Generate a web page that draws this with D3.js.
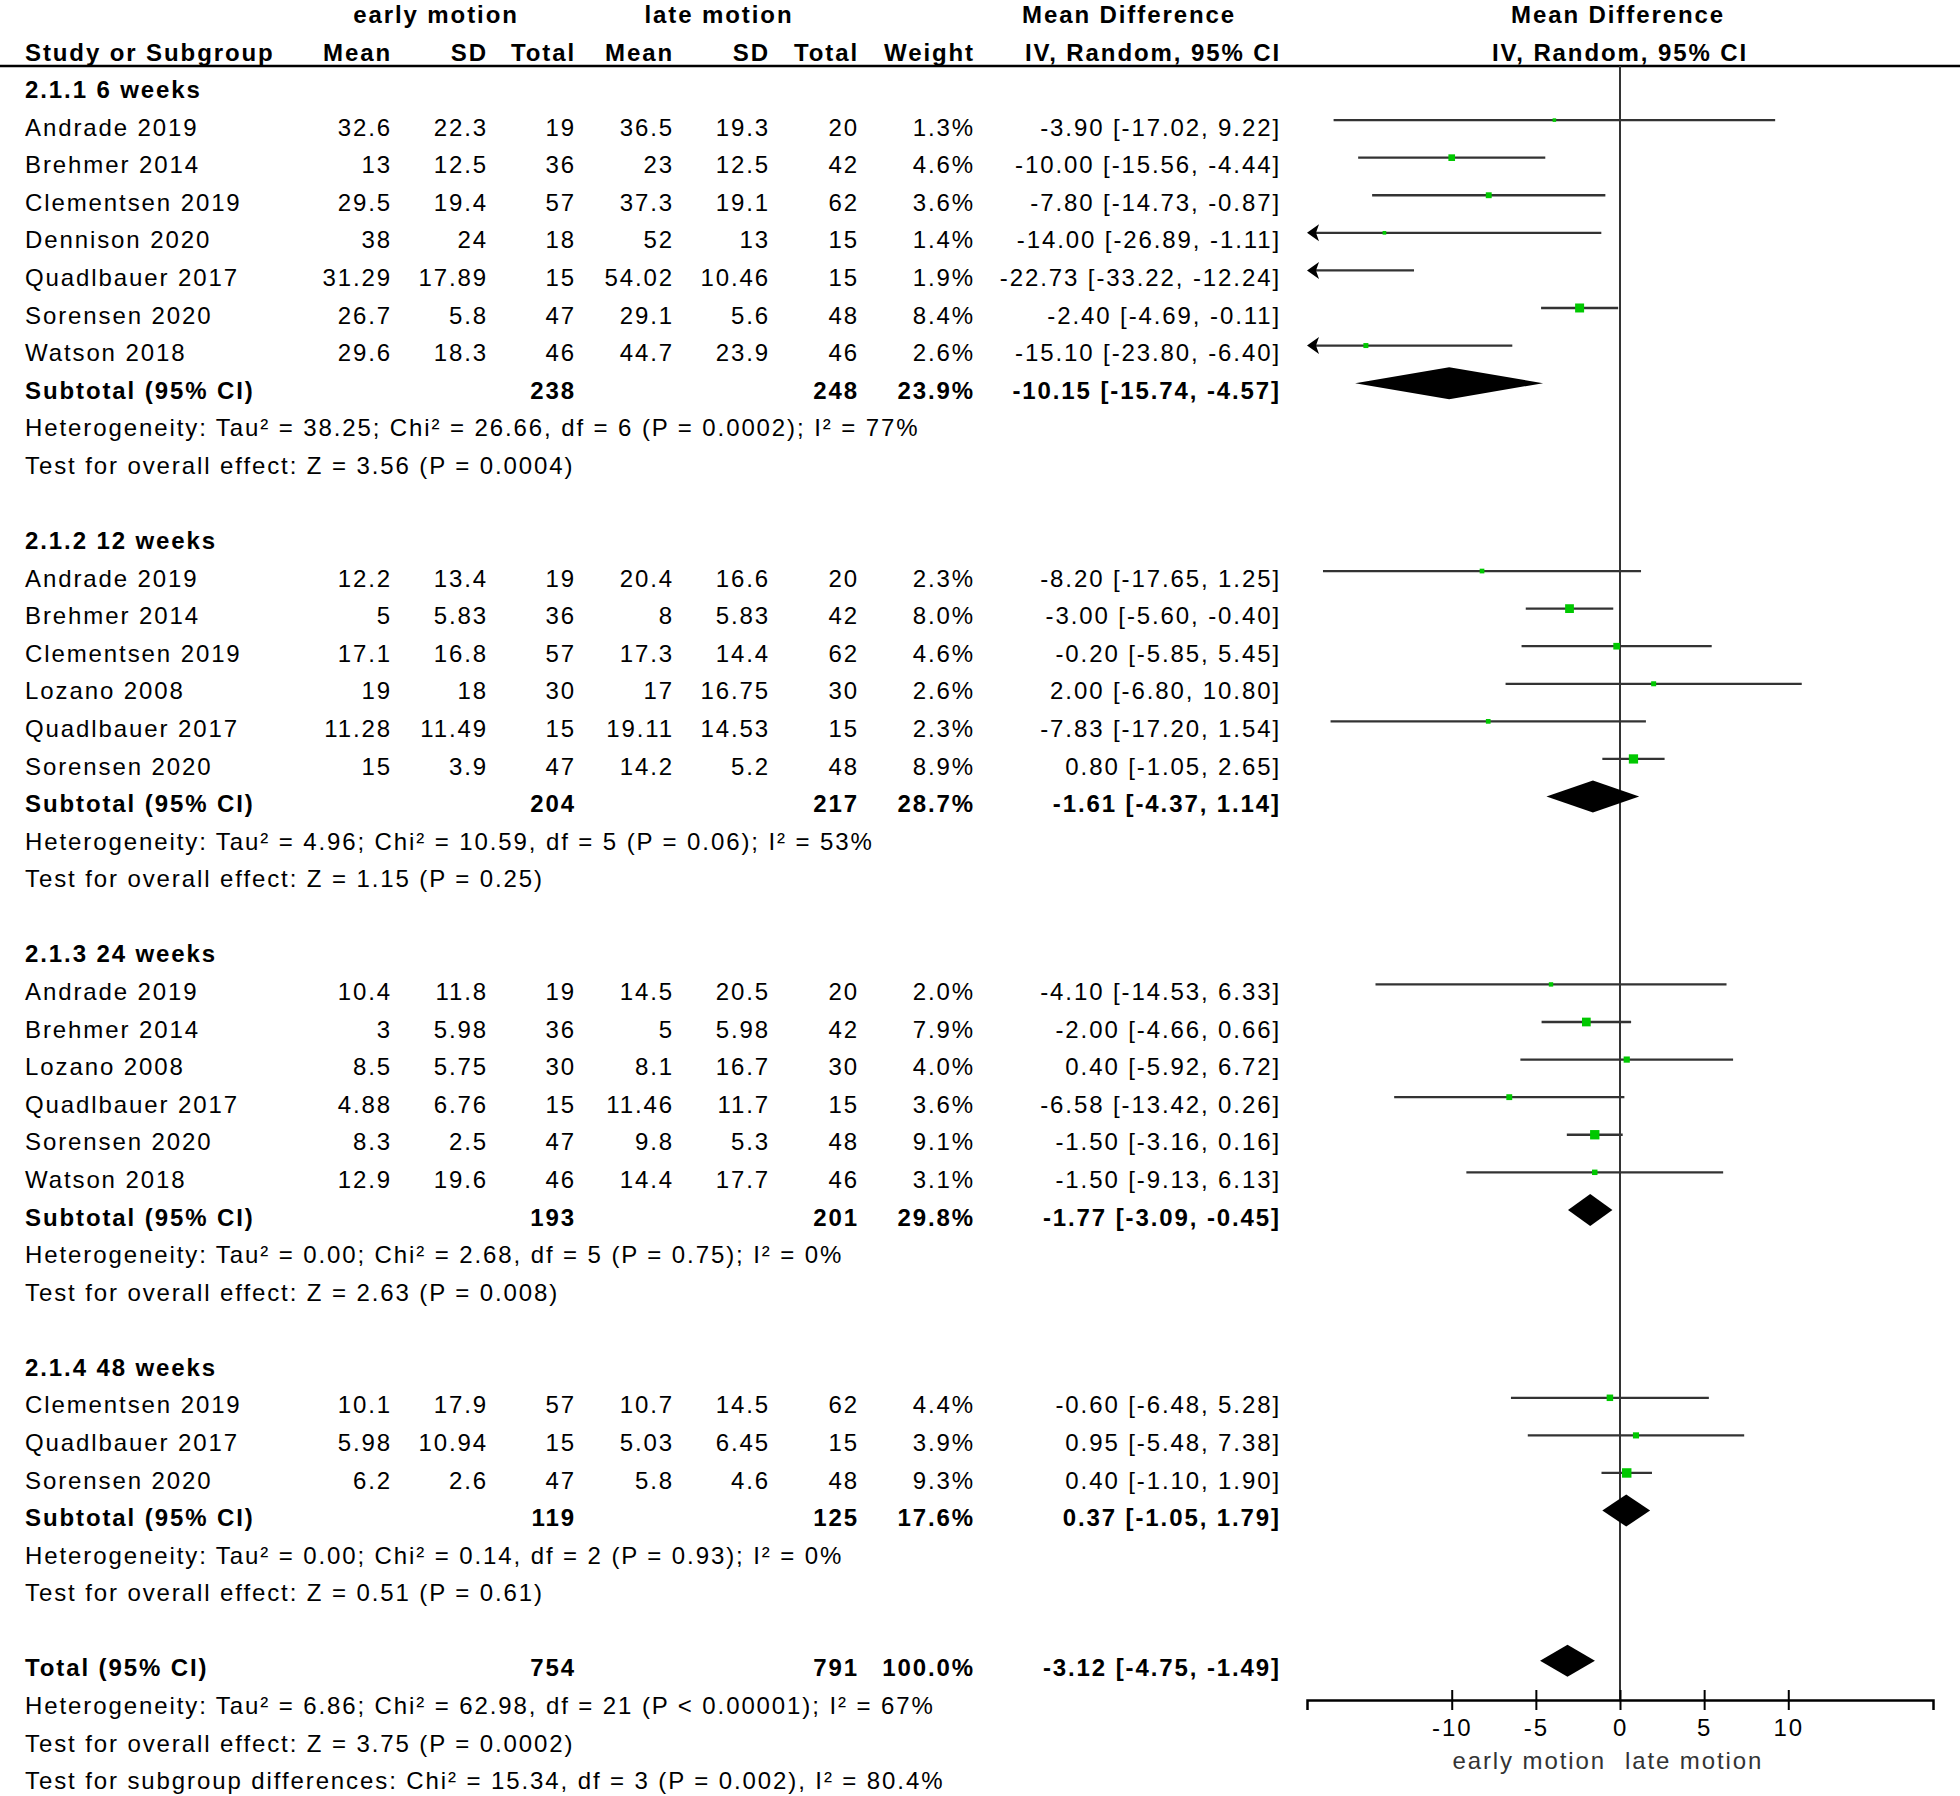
<!DOCTYPE html>
<html><head><meta charset="utf-8">
<script src="https://cdn.jsdelivr.net/npm/d3@7"></script>
<style>
html,body{margin:0;padding:0;background:#fff;}
svg text{font-family:"Liberation Sans",Arial,sans-serif;}
</style></head>
<body>
<script>
// ---------- data ----------
const groupLabels = ["2.1.1 6 weeks","2.1.2 12 weeks","2.1.3 24 weeks","2.1.4 48 weeks"];
const studyNames = ["Andrade 2019","Brehmer 2014","Clementsen 2019","Dennison 2020","Quadlbauer 2017","Sorensen 2020","Watson 2018",
  "Andrade 2019","Brehmer 2014","Clementsen 2019","Lozano 2008","Quadlbauer 2017","Sorensen 2020",
  "Andrade 2019","Brehmer 2014","Lozano 2008","Quadlbauer 2017","Sorensen 2020","Watson 2018",
  "Clementsen 2019","Quadlbauer 2017","Sorensen 2020"];
const studyGroup = [0,0,0,0,0,0,0, 1,1,1,1,1,1, 2,2,2,2,2,2, 3,3,3];
const earlyMean = [32.6,13,29.5,38,31.29,26.7,29.6, 12.2,5,17.1,19,11.28,15, 10.4,3,8.5,4.88,8.3,12.9, 10.1,5.98,6.2];
const earlySD   = [22.3,12.5,19.4,24,17.89,5.8,18.3, 13.4,5.83,16.8,18,11.49,3.9, 11.8,5.98,5.75,6.76,2.5,19.6, 17.9,10.94,2.6];
const earlyN    = [19,36,57,18,15,47,46, 19,36,57,30,15,47, 19,36,30,15,47,46, 57,15,47];
const lateMean  = [36.5,23,37.3,52,54.02,29.1,44.7, 20.4,8,17.3,17,19.11,14.2, 14.5,5,8.1,11.46,9.8,14.4, 10.7,5.03,5.8];
const lateSD    = [19.3,12.5,19.1,13,10.46,5.6,23.9, 16.6,5.83,14.4,16.75,14.53,5.2, 20.5,5.98,16.7,11.7,5.3,17.7, 14.5,6.45,4.6];
const lateN     = [20,42,62,15,15,48,46, 20,42,62,30,15,48, 20,42,30,15,48,46, 62,15,48];
const weights   = [1.3,4.6,3.6,1.4,1.9,8.4,2.6, 2.3,8.0,4.6,2.6,2.3,8.9, 2.0,7.9,4.0,3.6,9.1,3.1, 4.4,3.9,9.3];
const md        = [-3.90,-10.00,-7.80,-14.00,-22.73,-2.40,-15.10, -8.20,-3.00,-0.20,2.00,-7.83,0.80, -4.10,-2.00,0.40,-6.58,-1.50,-1.50, -0.60,0.95,0.40];
const ciLow     = [-17.02,-15.56,-14.73,-26.89,-33.22,-4.69,-23.80, -17.65,-5.60,-5.85,-6.80,-17.20,-1.05, -14.53,-4.66,-5.92,-13.42,-3.16,-9.13, -6.48,-5.48,-1.10];
const ciHigh    = [9.22,-4.44,-0.87,-1.11,-12.24,-0.11,-6.40, 1.25,-0.40,5.45,10.80,1.54,2.65, 6.33,0.66,6.72,0.26,0.16,6.13, 5.28,7.38,1.90];

const subEarlyN = [238,204,193,119];
const subLateN  = [248,217,201,125];
const subWeight = [23.9,28.7,29.8,17.6];
const subMD     = [-10.15,-1.61,-1.77,0.37];
const subLow    = [-15.74,-4.37,-3.09,-1.05];
const subHigh   = [-4.57,1.14,-0.45,1.79];
const subHet = ["Heterogeneity: Tau² = 38.25; Chi² = 26.66, df = 6 (P = 0.0002); I² = 77%",
  "Heterogeneity: Tau² = 4.96; Chi² = 10.59, df = 5 (P = 0.06); I² = 53%",
  "Heterogeneity: Tau² = 0.00; Chi² = 2.68, df = 5 (P = 0.75); I² = 0%",
  "Heterogeneity: Tau² = 0.00; Chi² = 0.14, df = 2 (P = 0.93); I² = 0%"];
const subTest = ["Test for overall effect: Z = 3.56 (P = 0.0004)","Test for overall effect: Z = 1.15 (P = 0.25)",
  "Test for overall effect: Z = 2.63 (P = 0.008)","Test for overall effect: Z = 0.51 (P = 0.61)"];

const totalEarlyN = 754, totalLateN = 791, totalWeight = 100.0;
const totalMD = -3.12, totalLow = -4.75, totalHigh = -1.49;
const totalNotes = ["Heterogeneity: Tau² = 6.86; Chi² = 62.98, df = 21 (P < 0.00001); I² = 67%",
  "Test for overall effect: Z = 3.75 (P = 0.0002)",
  "Test for subgroup differences: Chi² = 15.34, df = 3 (P = 0.002), I² = 80.4%"];

const axisTicks = [-10,-5,0,5,10];
const axisLabels = ["early motion","late motion"];
const headerTop = ["early motion","late motion","Mean Difference","Mean Difference"];
const headerCols = ["Study or Subgroup","Mean","SD","Total","Mean","SD","Total","Weight","IV, Random, 95% CI","IV, Random, 95% CI"];

// ---------- layout ----------
const W = 1960, H = 1796;
const FS = 24, LS = 1.9;
const rowY = i => 88.5 + i * 37.58;
const markOff = -6;
const col = {name:25, eM:392, eSD:488, eN:576, lM:674, lSD:770, lN:859, w:975, ci:1281};

const svg = d3.select("body").append("svg").attr("width", W).attr("height", H);
const x = d3.scaleLinear().domain([-18.6, 18.6]).range([1307, 1933]);

function txt(xp, y, s, anchor, bold){
  return svg.append("text").attr("x", xp).attr("y", y).attr("dy", "0.4em")
    .attr("text-anchor", anchor || "start")
    .attr("font-size", FS).attr("letter-spacing", LS)
    .attr("font-weight", bold ? "bold" : "normal").text(s);
}
const fmtCI = (m,l,h) => `${m.toFixed(2)} [${l.toFixed(2)}, ${h.toFixed(2)}]`;

// headers
txt(436, rowY(-2), headerTop[0], "middle", true);
txt(719, rowY(-2), headerTop[1], "middle", true);
txt(1129, rowY(-2), headerTop[2], "middle", true);
txt(1618, rowY(-2), headerTop[3], "middle", true);
txt(col.name, rowY(-1), headerCols[0], "start", true);
[[col.eM,1],[col.eSD,2],[col.eN,3],[col.lM,4],[col.lSD,5],[col.lN,6],[col.w,7],[col.ci,8]].forEach(([cx,k]) => txt(cx, rowY(-1), headerCols[k], "end", true));
txt(1620, rowY(-1), headerCols[9], "middle", true);

svg.append("line").attr("x1",0).attr("x2",W).attr("y1",66).attr("y2",66).attr("stroke","#000").attr("stroke-width",2.5);

// zero line
svg.append("line").attr("x1",x(0)).attr("x2",x(0)).attr("y1",66).attr("y2",1700).attr("stroke","#333").attr("stroke-width",2);

// rows
const groupStart = [0,12,23,34];
const [xmin] = x.domain();
function drawCI(y, lo, hi){
  const clipL = lo < xmin;
  svg.append("line").attr("x1", clipL ? x(xmin)+4 : x(lo)).attr("x2", x(hi)).attr("y1", y).attr("y2", y)
    .attr("stroke","#333").attr("stroke-width",2.3);
  if (clipL){
    const t = x(xmin);
    svg.append("path").attr("d",`M${t},${y} L${t+12},${y-8.5} L${t+9},${y} L${t+12},${y+8.5} Z`).attr("fill","#000");
  }
}
function diamond(y, m, lo, hi){
  svg.append("path").attr("d",`M${x(lo)},${y} L${x(m)},${y-16} L${x(hi)},${y} L${x(m)},${y+16} Z`).attr("fill","#000");
}

groupLabels.forEach((g, gi) => {
  let r = groupStart[gi];
  txt(col.name, rowY(r), g, "start", true);
  studyNames.forEach((n, si) => {
    if (studyGroup[si] !== gi) return;
    r++;
    const y = rowY(r);
    txt(col.name, y, n);
    txt(col.eM, y, String(earlyMean[si]), "end");
    txt(col.eSD, y, String(earlySD[si]), "end");
    txt(col.eN, y, String(earlyN[si]), "end");
    txt(col.lM, y, String(lateMean[si]), "end");
    txt(col.lSD, y, String(lateSD[si]), "end");
    txt(col.lN, y, String(lateN[si]), "end");
    txt(col.w, y, weights[si].toFixed(1) + "%", "end");
    txt(col.ci, y, fmtCI(md[si], ciLow[si], ciHigh[si]), "end");
    const my = y + markOff;
    drawCI(my, ciLow[si], ciHigh[si]);
    if (md[si] >= xmin){
      const s = 3.1 * Math.sqrt(weights[si]);
      svg.append("rect").attr("x", x(md[si]) - s/2).attr("y", my - s/2).attr("width", s).attr("height", s)
        .attr("fill","#00c800");
    }
  });
  r++;
  let y = rowY(r);
  txt(col.name, y, "Subtotal (95% CI)", "start", true);
  txt(col.eN, y, String(subEarlyN[gi]), "end", true);
  txt(col.lN, y, String(subLateN[gi]), "end", true);
  txt(col.w, y, subWeight[gi].toFixed(1) + "%", "end", true);
  txt(col.ci, y, fmtCI(subMD[gi], subLow[gi], subHigh[gi]), "end", true);
  diamond(y + markOff, subMD[gi], subLow[gi], subHigh[gi]);
  txt(col.name, rowY(r+1), subHet[gi]);
  txt(col.name, rowY(r+2), subTest[gi]);
});

// total
{
  const y = rowY(42);
  txt(col.name, y, "Total (95% CI)", "start", true);
  txt(col.eN, y, String(totalEarlyN), "end", true);
  txt(col.lN, y, String(totalLateN), "end", true);
  txt(col.w, y, totalWeight.toFixed(1) + "%", "end", true);
  txt(col.ci, y, fmtCI(totalMD, totalLow, totalHigh), "end", true);
  diamond(y + markOff, totalMD, totalLow, totalHigh);
  totalNotes.forEach((t, k) => txt(col.name, rowY(43 + k), t));
}

// axis
const axisG = svg.append("g").attr("transform","translate(0,1700)")
  .call(d3.axisBottom(x).tickValues(axisTicks).tickFormat(d => String(d)).tickSizeOuter(0).tickSize(10).tickPadding(9));
axisG.select(".domain").attr("stroke","#000").attr("stroke-width",2.5);
axisG.selectAll(".tick line").attr("y1",-10).attr("y2",10).attr("stroke","#000").attr("stroke-width",2);
axisG.selectAll(".tick text").attr("font-size",FS).attr("letter-spacing",LS).attr("fill","#000")
  .attr("font-family","Liberation Sans, Arial, sans-serif");
txt(1606, 1759, axisLabels[0], "end").attr("fill","#333");
txt(1625, 1759, axisLabels[1], "start").attr("fill","#333");
</script>
</body></html>
